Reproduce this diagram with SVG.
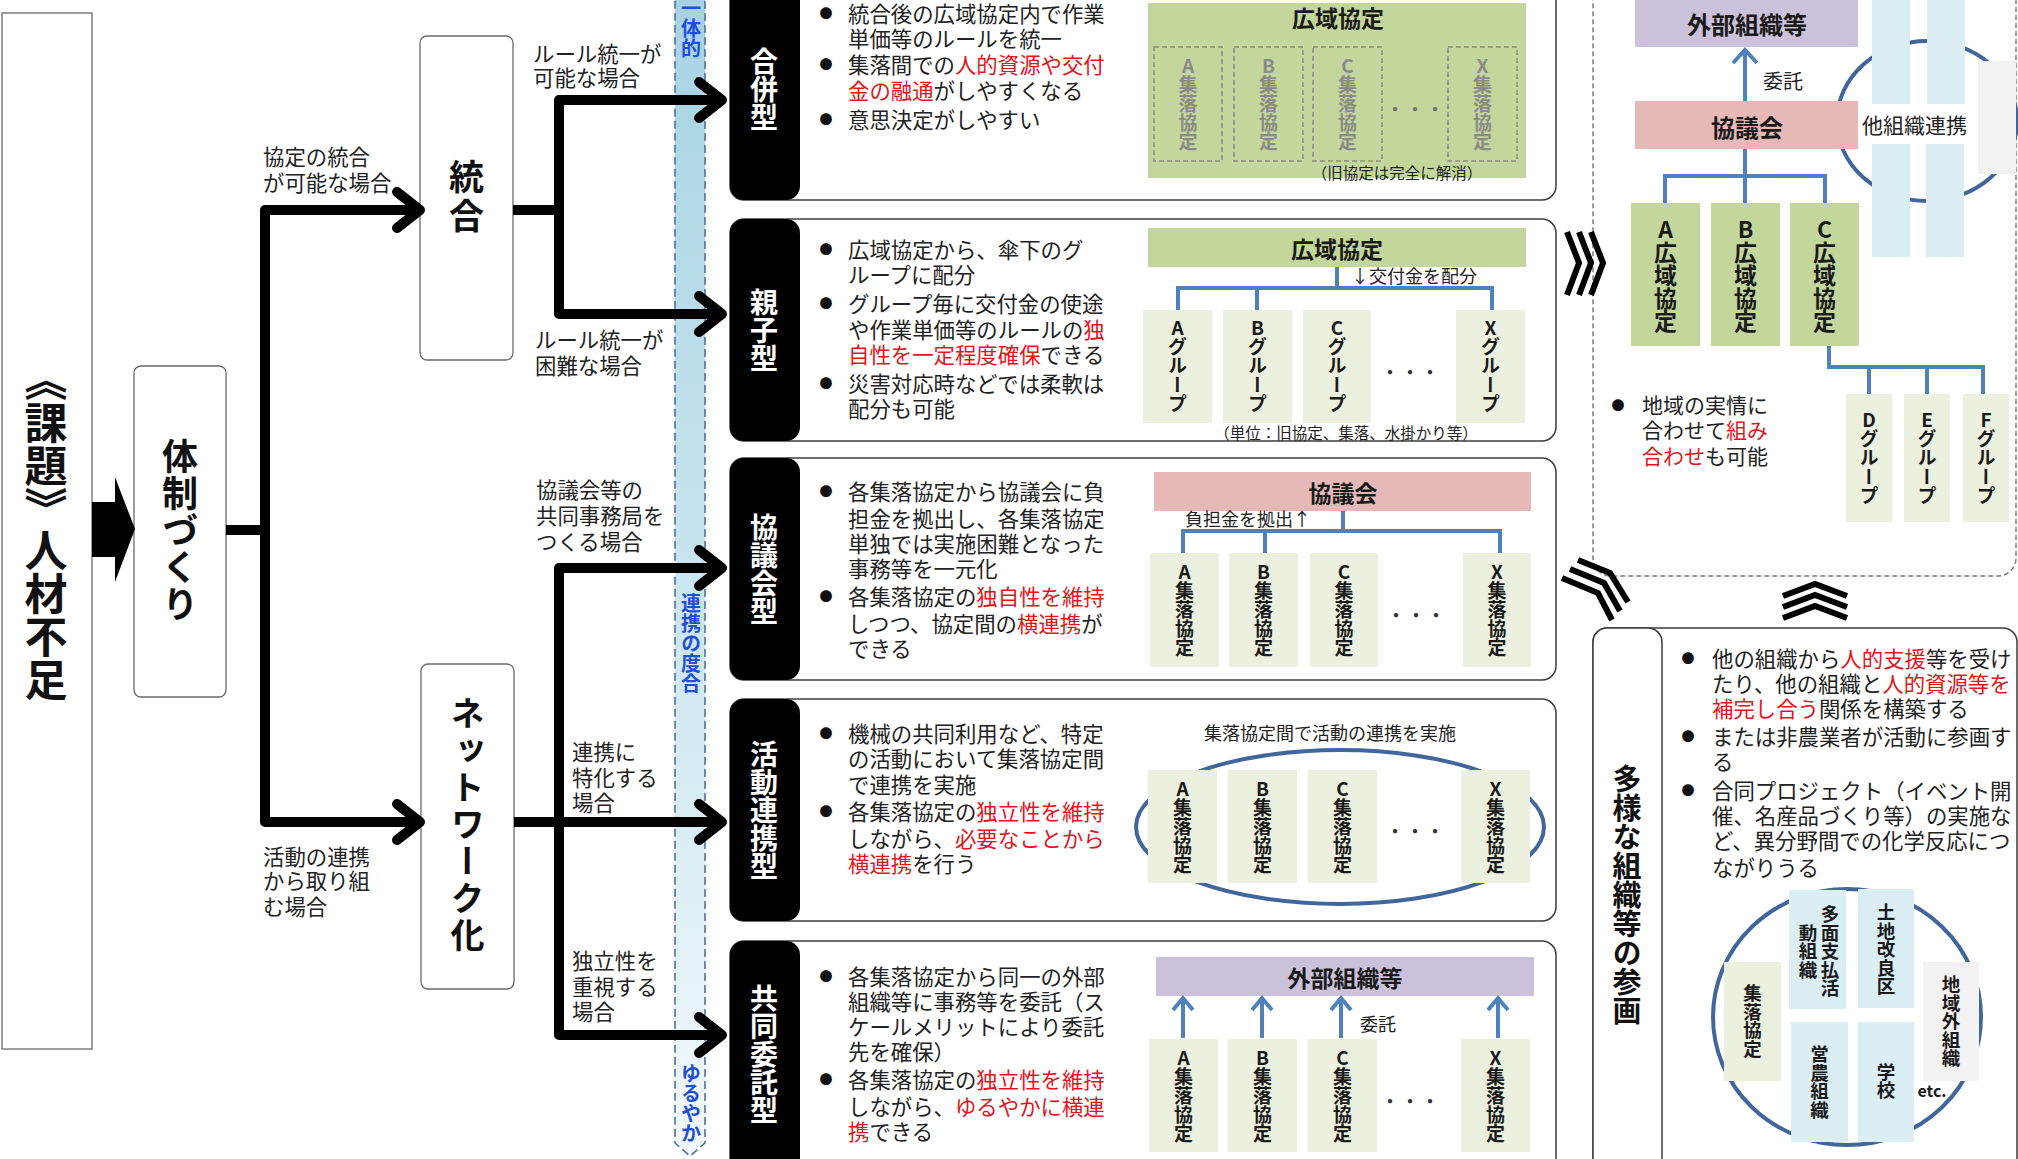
<svg xmlns="http://www.w3.org/2000/svg" width="2018" height="1159" viewBox="0 0 2018 1159">
<defs>
<linearGradient id="bandG" x1="0" y1="0" x2="0" y2="1">
<stop offset="0" stop-color="#a6d3e3"/>
<stop offset="0.5" stop-color="#c9e5ef"/>
<stop offset="1" stop-color="#f2f9fc"/>
</linearGradient>
<style>
text{font-family:'Noto Sans CJK JP','Noto Sans CJK SC',sans-serif}
.t{font-size:21.4px;fill:#222;dominant-baseline:central}
.r{fill:#e3141c}
.bul{font-size:13px;fill:#111;dominant-baseline:central;text-anchor:middle}
.v{writing-mode:vertical-rl;text-orientation:upright;text-anchor:middle}
.big{font-size:34px;font-weight:700;fill:#111}
.tab{fill:#000}
.tabt{font-size:28px;font-weight:700;fill:#fff}
.panel{fill:#fff;stroke:#3c3c3c;stroke-width:1.5}
.box{fill:#fff;stroke:#6b6b6b;stroke-width:1.3}
.flow{fill:none;stroke:#000;stroke-width:10;stroke-linejoin:round}
.head{fill:none;stroke:#000;stroke-width:10;stroke-linecap:round;stroke-linejoin:round}
.tree{fill:none;stroke:#4f81bd;stroke-width:4}
.gh{fill:#c3d69b}
.lg{fill:#ebf1de}
.pk{fill:#e6b9b8}
.pu{fill:#ccc1da}
.lb{fill:#dbeef4}
.gy{fill:#f2f2f2}
.dash{fill:none;stroke:#8c8c8c;stroke-width:1.5;stroke-dasharray:5 3}
.hd{font-size:23px;font-weight:700;fill:#1a1a1a;text-anchor:middle;dominant-baseline:central}
.bx{font-size:19px;font-weight:700;fill:#1a1a1a}
.gx{font-size:19px;font-weight:700;fill:#8a8a8a}
.dots{font-size:20px;fill:#333;text-anchor:middle;dominant-baseline:central}
.sm{font-size:15.5px;fill:#222;text-anchor:middle;dominant-baseline:central}
.s18{font-size:18px;fill:#222;dominant-baseline:central}
.bt{font-size:20px;font-weight:700;fill:#1f4ed8}
.ell{fill:none;stroke:#41669c;stroke-width:4}
.chev{fill:none;stroke:#000;stroke-width:6;stroke-linejoin:miter}
</style>
</defs>
<rect x="0" y="0" width="2018" height="1159" fill="#fff"/>

<g id="band">
<path d="M675,-5 H705 V1143 L690,1156 L675,1143 Z" fill="url(#bandG)" stroke="#4a72a6" stroke-width="1.6" stroke-dasharray="8 4"/>
<text class="v bt" x="691" y="28">一体的</text>
<text class="v bt" x="691" y="643">連携の度合</text>
<text class="v bt" x="691" y="1103">ゆるやか</text>
</g>

<g id="node-kadai">
<rect x="2" y="13" width="90" height="1036" fill="#fff" stroke="#7f7f7f" stroke-width="1.5"/>
<text class="v big" x="46" y="444" style="font-size:43px">《課題》</text>
<text class="v big" x="46" y="615" style="font-size:43px">人材不足</text>
</g>

<g id="node-taisei">
<rect class="box" x="134" y="366" width="92" height="331" rx="7"/>
<text class="v big" x="180" y="531" style="font-size:36px" letter-spacing="1">体制づくり</text>
</g>

<g id="node-tougou">
<rect class="box" x="420" y="36" width="93" height="324" rx="7"/>
<text class="v big" x="466.5" y="198" style="font-size:35px" letter-spacing="4">統合</text>
</g>

<g id="node-network">
<rect class="box" x="421" y="664" width="93" height="325" rx="7"/>
<text class="v big" x="467.5" y="826" letter-spacing="3">ネットワーク化</text>
</g>

<g id="flow-labels">
<text class="t"><tspan x="263" y="155">協定の統合</tspan><tspan x="263" y="181">が可能な場合</tspan></text>
<text class="t"><tspan x="533" y="52">ルール統一が</tspan><tspan x="533" y="76">可能な場合</tspan></text>
<text class="t"><tspan x="535" y="338">ルール統一が</tspan><tspan x="535" y="364">困難な場合</tspan></text>
<text class="t"><tspan x="536" y="488">協議会等の</tspan><tspan x="536" y="514">共同事務局を</tspan><tspan x="536" y="540">つくる場合</tspan></text>
<text class="t"><tspan x="572" y="750">連携に</tspan><tspan x="572" y="776">特化する</tspan><tspan x="572" y="801">場合</tspan></text>
<text class="t"><tspan x="572" y="959">独立性を</tspan><tspan x="572" y="985">重視する</tspan><tspan x="572" y="1010">場合</tspan></text>
<text class="t"><tspan x="263" y="855">活動の連携</tspan><tspan x="263" y="879">から取り組</tspan><tspan x="263" y="905">む場合</tspan></text>
</g>

<g id="panel-gappei">
<rect class="panel" x="730" y="-22" width="826" height="222" rx="14"/>
<rect class="tab" x="730" y="-22" width="70" height="222" rx="14"/>
<text class="v tabt" x="764" y="89">合併型</text>
<text class="bul" x="826" y="12">●</text>
<text class="bul" x="826" y="63">●</text>
<text class="bul" x="826" y="118">●</text>
<text class="t"><tspan x="848" y="12">統合後の広域協定内で作業</tspan><tspan x="848" y="37">単価等のルールを統一</tspan><tspan x="848" y="63">集落間での<tspan class="r">人的資源や交付</tspan></tspan><tspan x="848" y="89"><tspan class="r">金の融通</tspan>がしやすくなる</tspan><tspan x="848" y="118">意思決定がしやすい</tspan></text>
<rect class="gh" x="1148" y="3" width="378" height="175"/>
<text class="hd" x="1338" y="17">広域協定</text>
<rect class="dash" x="1154" y="47" width="68" height="114"/>
<rect class="dash" x="1234" y="47" width="69" height="114"/>
<rect class="dash" x="1313" y="47" width="69" height="114"/>
<rect class="dash" x="1448" y="47" width="69" height="114"/>
<text class="v gx" x="1188" y="104">A集落協定</text>
<text class="v gx" x="1268.5" y="104">B集落協定</text>
<text class="v gx" x="1347.5" y="104">C集落協定</text>
<text class="v gx" x="1482.5" y="104">X集落協定</text>
<text class="dots" x="1415" y="108" style="fill:#777">・・・</text>
<text class="sm" x="1397" y="172">（旧協定は完全に解消）</text>
</g>

<g id="panel-oyako">
<rect class="panel" x="730" y="219" width="826" height="222" rx="14"/>
<rect class="tab" x="730" y="219" width="70" height="222" rx="14"/>
<text class="v tabt" x="764" y="330">親子型</text>
<text class="bul" x="826" y="248">●</text>
<text class="bul" x="826" y="302">●</text>
<text class="bul" x="826" y="382">●</text>
<text class="t"><tspan x="848" y="248">広域協定から、傘下のグ</tspan><tspan x="848" y="273">ループに配分</tspan><tspan x="848" y="302">グループ毎に交付金の使途</tspan><tspan x="848" y="328">や作業単価等のルールの<tspan class="r">独</tspan></tspan><tspan x="848" y="353"><tspan class="r">自性を一定程度確保</tspan>できる</tspan><tspan x="848" y="382">災害対応時などでは柔軟は</tspan><tspan x="848" y="407">配分も可能</tspan></text>
<rect class="gh" x="1148" y="228" width="378" height="39"/>
<text class="hd" x="1337" y="248">広域協定</text>
<text class="s18" x="1351" y="275">↓交付金を配分</text>
<rect class="lg" x="1143" y="310" width="69" height="113"/>
<rect class="lg" x="1223" y="310" width="69" height="113"/>
<rect class="lg" x="1303" y="310" width="68" height="113"/>
<rect class="lg" x="1456" y="310" width="69" height="113"/>
<text class="v bx" x="1177.5" y="366">Aグループ</text>
<text class="v bx" x="1257.5" y="366">Bグループ</text>
<text class="v bx" x="1337" y="366">Cグループ</text>
<text class="v bx" x="1490.5" y="366">Xグループ</text>
<text class="dots" x="1410" y="371">・・・</text>
<text class="sm" x="1346" y="432">（単位：旧協定、集落、水掛かり等）</text>
</g>

<g id="panel-kyougikai">
<rect class="panel" x="730" y="458" width="826" height="222" rx="14"/>
<rect class="tab" x="730" y="458" width="70" height="222" rx="14"/>
<text class="v tabt" x="764" y="569">協議会型</text>
<text class="bul" x="826" y="490">●</text>
<text class="bul" x="826" y="595">●</text>
<text class="t"><tspan x="848" y="490">各集落協定から協議会に負</tspan><tspan x="848" y="517">担金を拠出し、各集落協定</tspan><tspan x="848" y="542">単独では実施困難となった</tspan><tspan x="848" y="567">事務等を一元化</tspan><tspan x="848" y="595">各集落協定の<tspan class="r">独自性を維持</tspan></tspan><tspan x="848" y="622">しつつ、協定間の<tspan class="r">横連携</tspan>が</tspan><tspan x="848" y="647">できる</tspan></text>
<rect class="pk" x="1154" y="472" width="377" height="39"/>
<text class="hd" x="1343" y="492">協議会</text>
<text class="s18" x="1185" y="518">負担金を拠出↑</text>
<rect class="lg" x="1150" y="553" width="69" height="114"/>
<rect class="lg" x="1229" y="553" width="69" height="114"/>
<rect class="lg" x="1310" y="553" width="68" height="114"/>
<rect class="lg" x="1463" y="553" width="68" height="114"/>
<text class="v bx" x="1184.5" y="610">A集落協定</text>
<text class="v bx" x="1263.5" y="610">B集落協定</text>
<text class="v bx" x="1344" y="610">C集落協定</text>
<text class="v bx" x="1497" y="610">X集落協定</text>
<text class="dots" x="1416" y="614">・・・</text>
</g>

<g id="panel-katsudou">
<rect class="panel" x="730" y="699" width="826" height="222" rx="14"/>
<rect class="tab" x="730" y="699" width="70" height="222" rx="14"/>
<text class="v tabt" x="764" y="810">活動連携型</text>
<text class="bul" x="826" y="732">●</text>
<text class="bul" x="826" y="810">●</text>
<text class="t"><tspan x="848" y="732">機械の共同利用など、特定</tspan><tspan x="848" y="757">の活動において集落協定間</tspan><tspan x="848" y="783">で連携を実施</tspan><tspan x="848" y="810">各集落協定の<tspan class="r">独立性を維持</tspan></tspan><tspan x="848" y="837">しながら、<tspan class="r">必要なことから</tspan></tspan><tspan x="848" y="862"><tspan class="r">横連携</tspan>を行う</tspan></text>
<text class="s18" x="1330" y="732" text-anchor="middle">集落協定間で活動の連携を実施</text>
<ellipse class="ell" cx="1340" cy="827" rx="204" ry="77"/>
<rect class="lg" x="1148" y="770" width="69" height="113"/>
<rect class="lg" x="1228" y="770" width="69" height="113"/>
<rect class="lg" x="1308" y="770" width="69" height="113"/>
<rect class="lg" x="1461" y="770" width="69" height="113"/>
<text class="v bx" x="1182.5" y="827">A集落協定</text>
<text class="v bx" x="1262.5" y="827">B集落協定</text>
<text class="v bx" x="1342.5" y="827">C集落協定</text>
<text class="v bx" x="1495.5" y="827">X集落協定</text>
<text class="dots" x="1415" y="830">・・・</text>
</g>

<g id="panel-kyoudou">
<rect class="panel" x="730" y="941" width="826" height="240" rx="14"/>
<rect class="tab" x="730" y="941" width="70" height="240" rx="14"/>
<text class="v tabt" x="764" y="1054">共同委託型</text>
<text class="bul" x="826" y="975">●</text>
<text class="bul" x="826" y="1078">●</text>
<text class="t"><tspan x="848" y="975">各集落協定から同一の外部</tspan><tspan x="848" y="1000">組織等に事務等を委託（ス</tspan><tspan x="848" y="1025">ケールメリットにより委託</tspan><tspan x="848" y="1050">先を確保）</tspan><tspan x="848" y="1078">各集落協定の<tspan class="r">独立性を維持</tspan></tspan><tspan x="848" y="1105">しながら、<tspan class="r">ゆるやかに横連</tspan></tspan><tspan x="848" y="1130"><tspan class="r">携</tspan>できる</tspan></text>
<rect class="pu" x="1156" y="957" width="378" height="39"/>
<text class="hd" x="1345" y="977">外部組織等</text>
<text class="s18" x="1360" y="1023">委託</text>
<rect class="lg" x="1149" y="1039" width="69" height="113"/>
<rect class="lg" x="1228" y="1039" width="69" height="113"/>
<rect class="lg" x="1308" y="1039" width="69" height="113"/>
<rect class="lg" x="1461" y="1039" width="69" height="113"/>
<text class="v bx" x="1183.5" y="1096">A集落協定</text>
<text class="v bx" x="1262.5" y="1096">B集落協定</text>
<text class="v bx" x="1342.5" y="1096">C集落協定</text>
<text class="v bx" x="1495.5" y="1096">X集落協定</text>
<text class="dots" x="1410" y="1100">・・・</text>
</g>

<g id="section-combined">
<rect x="1593" y="-20" width="423" height="596" rx="18" fill="none" stroke="#7f7f7f" stroke-width="1.5" stroke-dasharray="5 3"/>
<ellipse class="ell" cx="1927" cy="121" rx="90" ry="80"/>
<rect class="lb" x="1872" y="0" width="38" height="104"/>
<rect class="lb" x="1927" y="0" width="38" height="104"/>
<rect class="lb" x="1872" y="144" width="38" height="113"/>
<rect class="lb" x="1926" y="144" width="38" height="113"/>
<rect class="gy" x="1978" y="61" width="38" height="113"/>
<text class="t" x="1862" y="124" style="font-size:21px">他組織連携</text>
<rect class="pu" x="1635" y="-5" width="223" height="52"/>
<text class="hd" x="1747" y="23" style="font-size:24px">外部組織等</text>
<text class="t" x="1763" y="80" style="font-size:20px">委託</text>
<rect class="pk" x="1635" y="101" width="223" height="48"/>
<text class="hd" x="1747" y="126" style="font-size:24px">協議会</text>
<rect class="gh" x="1631" y="203" width="69" height="143"/>
<rect class="gh" x="1711" y="203" width="69" height="143"/>
<rect class="gh" x="1790" y="203" width="69" height="143"/>
<text class="v bx" x="1665.5" y="275" style="font-size:23px">A広域協定</text>
<text class="v bx" x="1745.5" y="275" style="font-size:23px">B広域協定</text>
<text class="v bx" x="1824.5" y="275" style="font-size:23px">C広域協定</text>
<rect class="lg" x="1846" y="394" width="46" height="128"/>
<rect class="lg" x="1904" y="394" width="46" height="128"/>
<rect class="lg" x="1963" y="394" width="46" height="128"/>
<text class="v bx" x="1869" y="458">Dグループ</text>
<text class="v bx" x="1927" y="458">Eグループ</text>
<text class="v bx" x="1986" y="458">Fグループ</text>
<text class="bul" x="1618" y="404">●</text>
<text class="t" style="font-size:21px"><tspan x="1642" y="404">地域の実情に</tspan><tspan x="1642" y="429">合わせて<tspan class="r">組み</tspan></tspan><tspan x="1642" y="455"><tspan class="r">合わせ</tspan>も可能</tspan></text>
</g>

<g id="section-tayou">
<rect x="1593" y="628" width="424" height="560" rx="14" fill="#fff" stroke="#3c3c3c" stroke-width="1.5"/>
<rect x="1593" y="628" width="69" height="560" rx="14" fill="#fff" stroke="#3c3c3c" stroke-width="1.5"/>
<text class="v big" x="1627" y="895" style="font-size:29px">多様な組織等の参画</text>
<text class="bul" x="1688" y="657">●</text>
<text class="bul" x="1688" y="735">●</text>
<text class="bul" x="1688" y="789">●</text>
<text class="t"><tspan x="1712" y="657">他の組織から<tspan class="r">人的支援</tspan>等を受け</tspan><tspan x="1712" y="682">たり、他の組織と<tspan class="r">人的資源等を</tspan></tspan><tspan x="1712" y="707"><tspan class="r">補完し合う</tspan>関係を構築する</tspan><tspan x="1712" y="735">または非農業者が活動に参画す</tspan><tspan x="1712" y="760">る</tspan><tspan x="1712" y="789">合同プロジェクト（イベント開</tspan><tspan x="1712" y="814">催、名産品づくり等）の実施な</tspan><tspan x="1712" y="839">ど、異分野間での化学反応につ</tspan><tspan x="1712" y="866">ながりうる</tspan></text>
<ellipse class="ell" cx="1847" cy="1017" rx="134" ry="128"/>
<rect class="lb" x="1789" y="890" width="57" height="119"/>
<rect class="lb" x="1858" y="889" width="56" height="119"/>
<rect class="lg" x="1724" y="962" width="57" height="119"/>
<rect class="gy" x="1923" y="962" width="56" height="119"/>
<rect class="lb" x="1791" y="1022" width="57" height="120"/>
<rect class="lb" x="1858" y="1022" width="56" height="120"/>
<text class="v bx" x="1830" y="951" style="font-size:18.5px">多面支払活</text>
<text class="v bx" x="1808" y="951" style="font-size:18.5px">動組織</text>
<text class="v bx" x="1886" y="949" style="font-size:18.5px">土地改良区</text>
<text class="v bx" x="1752.5" y="1021" style="font-size:18.5px">集落協定</text>
<text class="v bx" x="1951" y="1021" style="font-size:18.5px">地域外組織</text>
<text class="v bx" x="1819.5" y="1082" style="font-size:18.5px">営農組織</text>
<text class="v bx" x="1886" y="1081" style="font-size:18.5px">学校</text>
<text x="1932" y="1090" style="font-size:16px;font-weight:700;fill:#1a1a1a;dominant-baseline:central" text-anchor="middle">etc.</text>
</g>

<g id="connectors">
<polygon points="92,502 115,502 115,477 135,529 115,582 115,557 92,557" fill="#000"/>
<path class="flow" d="M226,530 H265"/>
<path class="flow" d="M419,210 H265 V822 H419"/>
<path class="head" d="M397,192 L420,210 L397,228"/>
<path class="head" d="M397,804 L420,822 L397,840"/>
<path class="flow" d="M513,210 H559"/>
<path class="flow" d="M721,100 H559 V314 H721"/>
<path class="head" d="M699,82 L722,100 L699,118"/>
<path class="head" d="M699,296 L722,314 L699,332"/>
<path class="flow" d="M514,822 H721"/>
<path class="flow" d="M721,568 H559 V1035 H721"/>
<path class="head" d="M699,550 L722,568 L699,586"/>
<path class="head" d="M699,804 L722,822 L699,840"/>
<path class="head" d="M699,1017 L722,1035 L699,1053"/>
<path class="tree" d="M1337,267 V288 M1178,310 V288 H1492 V310 M1257,288 V310"/>
<path class="tree" d="M1343,511 V531 M1183,553 V531 H1500 V553 M1265,531 V553"/>
<path class="tree" d="M1183,1038 V999 M1262,1038 V999 M1341,1038 V999 M1498,1038 V999"/>
<path class="tree" d="M1173,1010 L1183,998 L1193,1010 M1252,1010 L1262,998 L1272,1010 M1331,1010 L1341,998 L1351,1010 M1488,1010 L1498,998 L1508,1010"/>
<path class="tree" d="M1745,101 V52 M1733,63 L1745,50 L1757,63"/>
<path class="tree" d="M1745,149 V176 M1665,203 V176 H1825 V203 M1745,176 V203"/>
<path class="tree" d="M1829,346 V367 H1983 V394 M1869,367 V394 M1927,367 V394"/>
<path class="chev" d="M1567,232 L1579,263 L1567,295 M1579,232 L1591,263 L1579,295 M1591,232 L1603,263 L1591,295"/>
<path class="chev" d="M1578,560 L1610,573 L1628,602 M1570,569 L1604,583 L1620,611 M1562,578 L1598,593 L1612,620"/>
<path class="chev" d="M1783,596 L1815,584 L1847,596 M1783,607 L1815,595 L1847,607 M1783,618 L1815,606 L1847,618"/>
</g>
</svg>
